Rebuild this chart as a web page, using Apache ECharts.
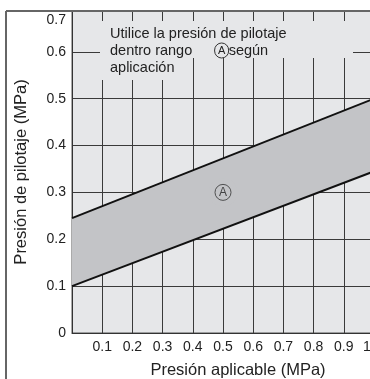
<!DOCTYPE html>
<html>
<head>
<meta charset="utf-8">
<script src="https://cdn.jsdelivr.net/npm/echarts@6/dist/echarts.min.js"></script>
<style>
  html, body { margin: 0; padding: 0; background: #fff; }
  #chart { width: 370px; height: 379px; }
</style>
</head>
<body>
<div id="chart"></div>
<script>
// applied pressure (MPa) at the two ends of the band
const xValues = [0, 1]
// pilot pressure limits (MPa)
const lowerLimit = [0.1, 0.345]
const upperLimit = [0.245, 0.5]
// position of the circled "A" marker
const markerPoint = [[0.5, 0.3]]

const plotBg = '#e6e7e9'
const bandColor = '#c3c4c7'
const gridColor = '#3a3a3a'
const textColor = '#222'
const font = '"Liberation Sans", Arial, sans-serif'

const chart = echarts.init(document.getElementById('chart'))

// band between the two limits, drawn through the axes
const renderBand = (params, api) => {
  const upper = xValues.map((x, i) => api.coord([x, upperLimit[i]]))
  const lower = xValues.map((x, i) => api.coord([x, lowerLimit[i]])).reverse()
  return {
    type: 'group',
    children: [
      {
        type: 'polygon',
        shape: { points: upper.concat(lower) },
        style: { fill: bandColor },
      },
      {
        type: 'polyline',
        shape: { points: upper },
        style: { stroke: '#111', lineWidth: 2, fill: null },
      },
      {
        type: 'polyline',
        shape: { points: lower },
        style: { stroke: '#111', lineWidth: 2, fill: null },
      },
    ],
  }
}

const option = {
  animation: false,
  textStyle: { fontFamily: font },
  grid: {
    left: 72,
    top: 11,
    width: 302,
    height: 322,
    outerBoundsMode: 'none',
    containLabel: false,
    show: true,
    backgroundColor: plotBg,
    borderColor: '#555',
    borderWidth: 1,
  },
  xAxis: {
    type: 'value',
    min: 0,
    max: 1,
    interval: 0.1,
    name: 'Presión aplicable (MPa)',
    nameLocation: 'middle',
    nameGap: 29,
    nameTextStyle: { fontSize: 16.5, color: textColor, padding: [0, 0, 0, 30] },
    axisLine: { show: true, lineStyle: { color: '#333', width: 1 } },
    axisTick: { show: false },
    axisLabel: {
      showMinLabel: false,
      showMaxLabel: true,
      hideOverlap: false,
      fontSize: 14,
      color: textColor,
      margin: 7,
      formatter: (v) => (v === 1 ? '{end|1}' : v.toFixed(1)),
      rich: { end: { fontSize: 14, color: textColor, padding: [0, 14, 0, 0] } },
    },
    splitLine: { show: true, lineStyle: { color: gridColor, width: 1 } },
  },
  yAxis: {
    type: 'value',
    min: 0,
    max: 0.687,
    interval: 0.1,
    name: 'Presión de pilotaje (MPa)',
    nameLocation: 'middle',
    nameGap: 42,
    nameTextStyle: { fontSize: 16.5, color: textColor },
    axisLine: { show: true, lineStyle: { color: '#333', width: 1 } },
    axisTick: { show: false },
    axisLabel: {
      fontSize: 14,
      color: textColor,
      margin: 6,
      formatter: (v) => (v === 0 ? '0' : v > 0.65 ? '{top|0.7}' : v.toFixed(1)),
      rich: { top: { fontSize: 14, color: textColor, padding: [18, 0, 0, 0] } },
    },
    splitLine: { show: true, lineStyle: { color: gridColor, width: 1 } },
  },
  series: [
    {
      name: 'Rango',
      type: 'custom',
      renderItem: renderBand,
      data: [0],
      silent: true,
      z: 3,
    },
    {
      // gap in the grid lines around the marker
      type: 'scatter',
      data: markerPoint,
      symbolSize: 28,
      itemStyle: { color: bandColor },
      silent: true,
      z: 4,
    },
    {
      type: 'scatter',
      data: markerPoint,
      symbolSize: 16,
      itemStyle: { color: bandColor, borderColor: '#333', borderWidth: 1 },
      label: {
        show: true,
        position: 'inside',
        formatter: 'A',
        fontSize: 12,
        color: textColor,
        fontFamily: font,
      },
      silent: true,
      z: 5,
    },
  ],
  graphic: [
    // outer frame of the figure
    { type: 'line', shape: { x1: 6, y1: 11, x2: 6, y2: 379 }, style: { stroke: '#666', lineWidth: 2 }, z: 10 },
    { type: 'line', shape: { x1: 6, y1: 11, x2: 370, y2: 11 }, style: { stroke: '#666', lineWidth: 2 }, z: 10 },
    // note box, hides grid lines behind the text
    { type: 'rect', shape: { x: 100, y: 21, width: 253, height: 37 }, style: { fill: plotBg }, z: 10 },
    { type: 'rect', shape: { x: 100, y: 58, width: 86, height: 22 }, style: { fill: plotBg }, z: 10 },
    {
      type: 'text',
      left: 110,
      top: 25,
      z: 11,
      style: {
        text: 'Utilice la presión de pilotaje\ndentro rango {c|A}según\naplicación',
        font: '14.5px ' + font,
        fill: textColor,
        lineHeight: 17,
        rich: {
          c: {
            fontSize: 11,
            fill: textColor,
            width: 14,
            height: 14,
            align: 'center',
            borderColor: '#333',
            borderWidth: 1,
            borderRadius: 7.5,
            lineHeight: 14,
            padding: [1, 0, 0, 0],
          },
        },
      },
    },
  ],
}

chart.setOption(option)
</script>
</body>
</html>
